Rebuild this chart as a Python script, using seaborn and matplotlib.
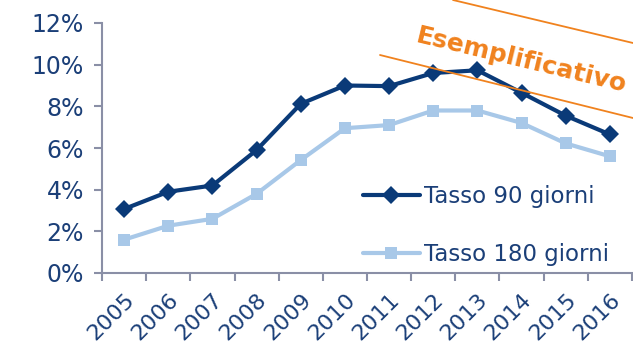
import matplotlib
matplotlib.use("Agg")
import matplotlib.pyplot as plt
import seaborn as sns
import pandas as pd
from matplotlib.lines import Line2D
from matplotlib.ticker import FixedLocator, FuncFormatter

years = ["2005", "2006", "2007", "2008", "2009", "2010", "2011", "2012", "2013", "2014", "2015", "2016"]
tasso_90 = [3.07, 3.9, 4.2, 5.9, 8.12, 9.0, 8.97, 9.6, 9.73, 8.65, 7.55, 6.65]
tasso_180 = [1.6, 2.27, 2.6, 3.8, 5.42, 6.95, 7.1, 7.8, 7.8, 7.2, 6.22, 5.6]
series_names = ["Tasso 90 giorni", "Tasso 180 giorni"]
y_ticks = [0, 2, 4, 6, 8, 10, 12]
watermark = "Esemplificativo"

sns.set_style("white")
plt.rcParams['font.family'] = ['DejaVu Sans']

dark = "#0A3A78"
light = "#A8C8E8"
txt = "#1B3F78"
orange = "#F0821E"
spine = "#8A8FA6"

df = pd.DataFrame({
    "pos": list(range(len(years))) * 2,
    "val": tasso_90 + tasso_180,
    "serie": [series_names[0]] * len(years) + [series_names[1]] * len(years),
})

fig = plt.figure(figsize=(6.33, 3.44), dpi=100)
ax = fig.add_axes([102 / 633, (344 - 273) / 344, (632 - 102) / 633, (273 - 23) / 344])

sns.lineplot(data=df, x="pos", y="val", hue="serie", style="serie",
             palette=[dark, light], markers=["D", "s"], dashes=False,
             linewidth=3, markersize=9, markeredgewidth=0, ax=ax, legend=False)

ax.set_xlim(-0.5, len(years) - 0.5)
ax.set_ylim(0, 12)
ax.set_xlabel("")
ax.set_ylabel("")

ax.xaxis.set_major_locator(FixedLocator(list(range(len(years)))))
ax.set_xticklabels(years, rotation=45, ha="right", va="top", rotation_mode="anchor")
ax.xaxis.set_minor_locator(FixedLocator([i - 0.5 for i in range(len(years) + 1)]))
ax.tick_params(axis="x", which="major", bottom=True, length=0, pad=12, labelsize=16, labelcolor=txt)
ax.tick_params(axis="x", which="minor", bottom=True, length=6, width=1.5, color=spine, direction="out")

ax.yaxis.set_major_locator(FixedLocator(y_ticks))
ax.yaxis.set_major_formatter(FuncFormatter(lambda v, p: f"{int(v)}%"))
ax.tick_params(axis="y", left=True, length=6, width=1.5, color=spine, labelsize=17, labelcolor=txt, pad=7, direction="out")

for s in ["top", "right"]:
    ax.spines[s].set_visible(False)
for s in ["left", "bottom"]:
    ax.spines[s].set_color(spine)
    ax.spines[s].set_linewidth(1.5)

handles = [
    Line2D([], [], color=dark, lw=3, marker="D", markersize=9, markeredgewidth=0),
    Line2D([], [], color=light, lw=3, marker="s", markersize=9, markeredgewidth=0),
]
leg = fig.legend(handles, series_names, loc="upper left", bbox_to_anchor=(342 / 633, 1 - 164 / 344),
                 frameon=False, fontsize=16.5, handlelength=2.5, handletextpad=0.2, labelspacing=1.55)
for t in leg.get_texts():
    t.set_color(txt)

fig.add_artist(Line2D([453 / 633, 1.0], [1.0, 1 - 43 / 344], color=orange, lw=1.3, transform=fig.transFigure))
fig.add_artist(Line2D([380 / 633, 1.0], [1 - 55 / 344, 1 - 118 / 344], color=orange, lw=1.3, transform=fig.transFigure))
fig.text(521 / 633, 1 - 60 / 344, watermark, color=orange, fontsize=18, fontweight="bold",
         rotation=-13.5, ha="center", va="center", rotation_mode="anchor")

fig.savefig("out.png", dpi=100)
